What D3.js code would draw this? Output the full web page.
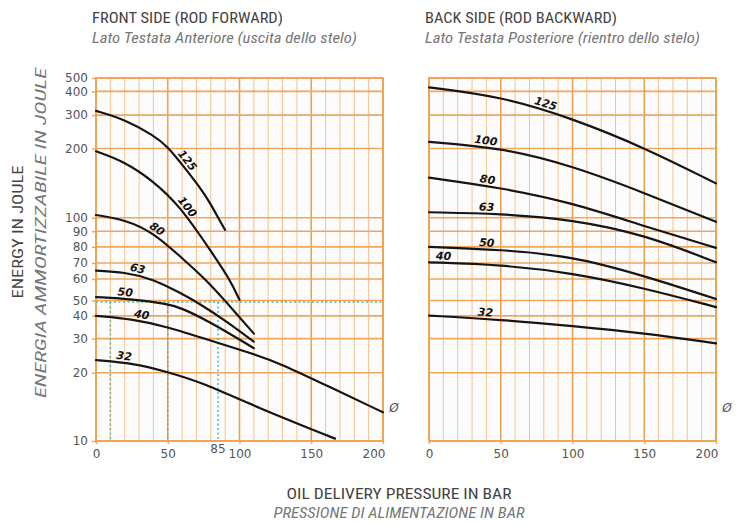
<!DOCTYPE html>
<html><head><meta charset="utf-8">
<script src="https://cdn.jsdelivr.net/npm/d3@7"></script>
<style>
body{margin:0;background:#fff}
svg{display:block}
</style>
</head><body>
<svg id="c" width="736" height="524"></svg>
<script>
// ---------------- DATA ----------------
const yTickValues = [10,20,30,40,50,60,70,80,90,100,200,300,400,500];
// the chart's own (hand-drawn) energy axis: relative height of each tick value, 0 = bottom, 1 = top
const yAxisProfile = [0,0.188,0.282,0.3448,0.387,0.4462,0.4905,0.5347,0.5778,0.6149,0.8056,0.8977,0.9632,1];
const xTickValues = [0,50,100,150,200];
const xMarkValue = 85;
const exampleEnergy = 49;
const examplePressures = [10,50,85];
const diameters = ["125","100","80","63","50","40","32"];

// FRONT SIDE (rod forward): [pressure bar, energy J]
const front125 = [[0,318],[19.7,288],[39.9,240],[50,206],[60,177],[72.5,144],[79.4,122],[86.4,97.5],[90,91]];
const front100 = [[0,196],[20,181],[40,153],[58.5,117],[79.4,78.3],[93.4,59.7],[100,50.3]];
const front80  = [[0,104],[20,98.7],[40,89.2],[58.5,74.1],[77,59.7],[100,39.4],[110,32.2]];
const front63  = [[0,65.2],[19.7,64.3],[39.9,60],[58.5,53.6],[72.5,47.8],[91,37.6],[110,29.1]];
const front50  = [[0,51.6],[26,50.6],[49.2,47.8],[58.5,45.6],[79.4,37.4],[110,27.2]];
const front40  = [[0,40],[26,38.5],[49.2,35.2],[72.5,30.6],[110,25.5],[128,22.8],[163,17.9],[200,14.2]];
const front32  = [[0,23.7],[26,22.8],[49.2,20.3],[72.5,18.7],[112.5,14.9],[166.6,10.35]];
const frontLabelAt = [60,60,40,28,20,31,19];

// BACK SIDE (rod backward)
const back125 = [[0,430],[50,379],[100,290],[150,203],[200,149.7]];
const back100 = [[0,220],[50,203],[100,175],[150,136],[200,97]];
const back80  = [[0,158],[50,143.5],[100,121.7],[150,93.7],[200,79.4]];
const back63  = [[0,108],[50,106],[100,98.7],[150,87.9],[200,70.4]];
const back50  = [[0,80],[50,78.3],[100,74.2],[150,62],[200,50.7]];
const back40  = [[0,70.4],[50,68.9],[100,63.8],[150,55.8],[200,45.7]];
const back32  = [[0,40.2],[50,38.3],[100,35.6],[150,32.4],[200,28.6]];
const backLabelAt = [80,39,40,40,40,10,39];

const frontSeries = [front125,front100,front80,front63,front50,front40,front32];
const backSeries  = [back125,back100,back80,back63,back50,back40,back32];

// ---------------- DRAW ----------------
const svg = d3.select('#c');
const plotTop = 78, plotBottom = 441;
const tickFont = '"DejaVu Sans", Verdana, sans-serif';
const titleFont = '"Liberation Sans Narrow", "Roboto Condensed", "Roboto", "Liberation Sans", sans-serif';

const y = d3.scaleLinear()
  .domain(yTickValues)
  .range(yAxisProfile.map(f => plotBottom - f*(plotBottom-plotTop)));

function panel(x0, x1, series, labelAt, isFront){
  const x = d3.scaleLinear().domain([0,200]).range([x0,x1]);
  const g = svg.append('g');
  g.append('rect').attr('x',x0).attr('y',plotTop).attr('width',x1-x0).attr('height',plotBottom-plotTop).attr('fill','#fcfcfc');
  // vertical grid
  g.append('g').selectAll('line').data(d3.range(0,201,10)).join('line')
    .attr('x1',d=>x(d)).attr('x2',d=>x(d)).attr('y1',plotTop).attr('y2',plotBottom)
    .attr('stroke',d=> d%50===0 ? '#f0a04e' : '#f6c28c')
    .attr('stroke-width',d=> d%50===0 ? 1.6 : 1);
  // horizontal grid
  g.append('g').selectAll('line').data(yTickValues).join('line')
    .attr('x1',x0).attr('x2',x1).attr('y1',d=>y(d)).attr('y2',d=>y(d))
    .attr('stroke','#f2a65c').attr('stroke-width',1.6);
  // border
  g.append('rect').attr('x',x0).attr('y',plotTop).attr('width',x1-x0).attr('height',plotBottom-plotTop)
    .attr('fill','none').attr('stroke','#f0a04e').attr('stroke-width',1.6);

  if(isFront){
    const dash = g.append('g').attr('stroke','#5fb5a2').attr('stroke-width',1.5).attr('stroke-dasharray','2,2.5').attr('fill','none');
    dash.append('line').attr('x1',x(0)).attr('x2',x(200)).attr('y1',y(exampleEnergy)).attr('y2',y(exampleEnergy));
    dash.selectAll('line.v').data(examplePressures).join('line').attr('class','v')
      .attr('x1',d=>x(d)).attr('x2',d=>x(d)).attr('y1',y(exampleEnergy)).attr('y2',y(10));
  }

  // axes
  const xa = g.append('g').attr('transform',`translate(0,${plotBottom})`)
    .call(d3.axisBottom(x).tickValues(xTickValues).tickSize(3).tickPadding(5));
  xa.select('.domain').remove();
  xa.selectAll('line').attr('stroke','#f0a04e').attr('stroke-width',1.4);
  xa.selectAll('text').attr('font-family',tickFont).attr('font-size',12).attr('fill','#555')
    .attr('text-anchor',d=> d===200 ? 'end':'middle').attr('dx',d=> d===200 ? 2 : 0);
  if(isFront){
    g.append('text').attr('x',x(xMarkValue)).attr('y',plotBottom+12).attr('text-anchor','middle')
      .attr('font-family',tickFont).attr('font-size',12).attr('fill','#555').text(String(xMarkValue));
    const ya = g.append('g').attr('transform',`translate(${x0},0)`)
      .call(d3.axisLeft(y).tickValues(yTickValues).tickSize(4).tickPadding(4));
    ya.select('.domain').remove();
    ya.selectAll('line').attr('stroke','#f0a04e').attr('stroke-width',1.4);
    ya.selectAll('text').attr('font-family',tickFont).attr('font-size',12).attr('fill','#555');
  }
  g.append('text').attr('x',x1+11).attr('y',y(14.3)).attr('text-anchor','middle')
    .attr('font-family',tickFont).attr('font-size',12).attr('font-style','italic').attr('fill','#555').text('Ø');

  // curves
  const line = d3.line().x(d=>x(d[0])).y(d=>y(d[1])).curve(d3.curveBasis);
  const paths = series.map(s => g.append('path').attr('d',line(s)).attr('fill','none')
      .attr('stroke','#151515').attr('stroke-width',2.2).attr('stroke-linecap','round'));

  function pointAtX(node, px){
    let lo=0, hi=node.getTotalLength();
    for(let i=0;i<40;i++){
      const mid=(lo+hi)/2; const p=node.getPointAtLength(mid);
      if(p.x<px) lo=mid; else hi=mid;
    }
    return node.getPointAtLength((lo+hi)/2);
  }
  diameters.forEach((d,i)=>{
    const node = paths[i].node();
    const px = x(labelAt[i]);
    const p = pointAtX(node,px), a = pointAtX(node,px-4), b = pointAtX(node,px+4);
    const ang = Math.atan2(b.y-a.y, b.x-a.x)*180/Math.PI;
    g.append('text').attr('transform',`translate(${p.x},${p.y}) rotate(${ang})`)
      .attr('y',-3).attr('text-anchor','middle')
      .attr('font-family',tickFont).attr('font-weight','bold').attr('font-style','italic')
      .attr('font-size',11).attr('fill','#111').text(d);
  });
}

panel(96,383,frontSeries,frontLabelAt,true);
panel(429,716,backSeries,backLabelAt,false);

// titles
function title(txt, x, yy, opts){
  const t = svg.append('text').attr('x',x).attr('y',yy).attr('font-family',titleFont)
    .attr('font-size',opts.size||14).attr('fill',opts.fill||'#444')
    .attr('font-style',opts.italic?'italic':'normal')
    .attr('text-anchor',opts.anchor||'start').text(txt);
  if(opts.rotate) t.attr('transform',`rotate(-90,${x},${yy})`);
  if(opts.width) t.attr('textLength',opts.width).attr('lengthAdjust','spacingAndGlyphs');
  return t;
}
title('FRONT SIDE (ROD FORWARD)',92,23,{size:14,width:191});
title('Lato Testata Anteriore (uscita dello stelo)',92,43,{size:14,italic:true,fill:'#777',width:265});
title('BACK SIDE (ROD BACKWARD)',425,23,{size:14,width:192});
title('Lato Testata Posteriore (rientro dello stelo)',425,43,{size:14,italic:true,fill:'#777',width:275});
title('OIL DELIVERY PRESSURE IN BAR',399,499,{size:15,anchor:'middle',width:225});
title('PRESSIONE DI ALIMENTAZIONE IN BAR',399,518,{size:15,anchor:'middle',italic:true,fill:'#777',width:251});
title('ENERGY IN JOULE',23,232,{size:15,anchor:'middle',rotate:true,width:133});
title('ENERGIA AMMORTIZZABILE IN JOULE',46,233,{size:15,anchor:'middle',rotate:true,italic:true,fill:'#777',width:330});
</script>
</body></html>
